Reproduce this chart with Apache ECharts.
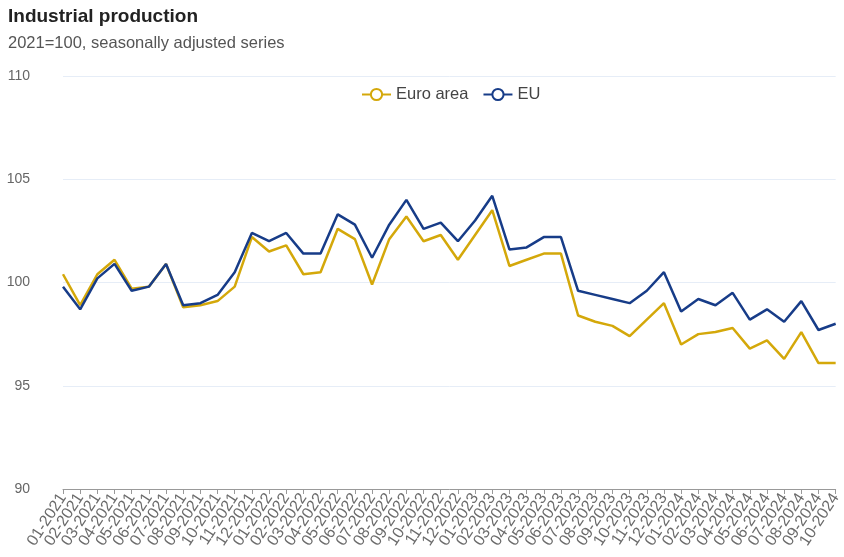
<!DOCTYPE html>
<html>
<head>
<meta charset="utf-8">
<script src="https://cdn.jsdelivr.net/npm/echarts@6/dist/echarts.min.js"></script>
<style>html,body{margin:0;padding:0;background:#fff;}#c{width:844px;height:557px;}</style>
</head>
<body>
<div id="c"></div>
<script>
const categories = ["01-2021","02-2021","03-2021","04-2021","05-2021","06-2021","07-2021","08-2021","09-2021","10-2021","11-2021","12-2021",
"01-2022","02-2022","03-2022","04-2022","05-2022","06-2022","07-2022","08-2022","09-2022","10-2022","11-2022","12-2022",
"01-2023","02-2023","03-2023","04-2023","05-2023","06-2023","07-2023","08-2023","09-2023","10-2023","11-2023","12-2023",
"01-2024","02-2024","03-2024","04-2024","05-2024","06-2024","07-2024","08-2024","09-2024","10-2024"];
const euroArea = [100.4,98.9,100.4,101.1,99.7,99.8,100.9,98.8,98.9,99.1,99.8,102.2,
101.5,101.8,100.4,100.5,102.6,102.1,99.9,102.1,103.2,102.0,102.3,101.1,
102.3,103.5,100.8,101.1,101.4,101.4,98.4,98.1,97.9,97.4,98.2,99.0,
97.0,97.5,97.6,97.8,96.8,97.2,96.3,97.6,96.1,96.1];
const eu = [99.8,98.7,100.2,100.9,99.6,99.8,100.9,98.9,99.0,99.4,100.5,102.4,
102.0,102.4,101.4,101.4,103.3,102.8,101.2,102.8,104.0,102.6,102.9,102.0,
103.0,104.2,101.6,101.7,102.2,102.2,99.6,99.4,99.2,99.0,99.6,100.5,
98.6,99.2,98.9,99.5,98.2,98.7,98.1,99.1,97.7,98.0];
const yTicks = {min: 90, max: 110, interval: 5};

const chart = echarts.init(document.getElementById('c'), null, {renderer: 'canvas'});
const font = 'Liberation Sans, Arial, sans-serif';
chart.setOption({
  animation: false,
  textStyle: {fontFamily: font},
  title: {
    text: 'Industrial production',
    subtext: '2021=100, seasonally adjusted series',
    left: 3, top: 2,
    itemGap: 9,
    textStyle: {fontSize: 19, fontWeight: 'bold', color: '#222', fontFamily: font},
    subtextStyle: {fontSize: 16.5, color: '#555', fontFamily: font}
  },
  legend: {
    top: 81, left: 356,
    itemWidth: 29, itemHeight: 14, itemGap: 14,
    textStyle: {fontSize: 16.5, color: '#444', fontFamily: font},
    data: ['Euro area', 'EU']
  },
  grid: {left: 63, right: 8, top: 76, bottom: 68},
  xAxis: {
    type: 'category',
    data: categories,
    boundaryGap: false,
    axisLine: {lineStyle: {color: '#999'}},
    axisTick: {show: true, length: 5, lineStyle: {color: '#999'}},
    axisLabel: {rotate: 57, interval: 0, fontSize: 16, color: '#6b6b6b', margin: 6, fontFamily: font}
  },
  yAxis: {
    type: 'value',
    min: yTicks.min, max: yTicks.max, interval: yTicks.interval,
    axisLine: {show: false},
    axisTick: {show: false},
    splitLine: {lineStyle: {color: '#e6edf7'}},
    axisLabel: {fontSize: 14, color: '#666', margin: 33, fontFamily: font}
  },
  series: [
    {name: 'Euro area', type: 'line', data: euroArea, showSymbol: false, symbol: 'emptyCircle', symbolSize: 12,
     lineStyle: {width: 2.5, color: '#d4a80a'}, itemStyle: {color: '#d4a80a', borderWidth: 2}},
    {name: 'EU', type: 'line', data: eu, showSymbol: false, symbol: 'emptyCircle', symbolSize: 12,
     lineStyle: {width: 2.5, color: '#173c88'}, itemStyle: {color: '#173c88', borderWidth: 2}}
  ]
});
</script>
</body>
</html>
